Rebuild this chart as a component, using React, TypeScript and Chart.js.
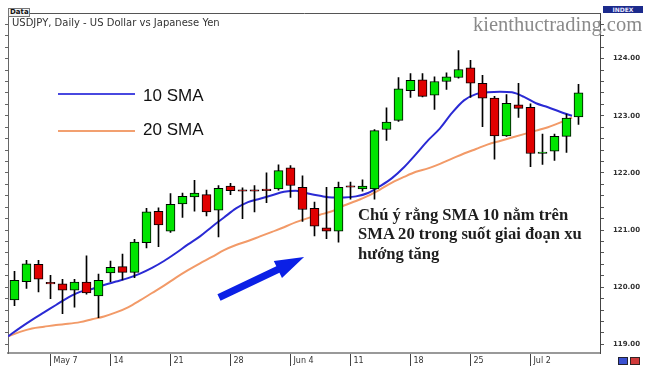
import React, { useEffect, useRef } from "react";
import { Chart, registerables } from "chart.js";

Chart.register(...registerables);

// ---- Data (USDJPY daily candles) ----
const opens = [119.78, 120.10, 120.40, 120.07, 120.06, 119.95, 120.09, 119.85, 120.25, 120.36, 120.26, 120.78, 121.33, 120.98, 121.46, 121.58, 121.62, 121.35, 121.77, 121.69, 121.69, 121.70, 121.72, 122.09, 121.75, 121.38, 121.04, 120.98, 121.76, 121.72, 121.72, 122.76, 122.92, 123.44, 123.63, 123.36, 123.60, 123.67, 123.84, 123.57, 123.31, 122.65, 123.19, 123.15, 122.34, 122.38, 122.64, 122.98];
const highs = [120.28, 120.47, 120.47, 120.21, 120.14, 120.14, 120.55, 120.23, 120.46, 120.58, 120.84, 121.38, 121.39, 121.64, 121.65, 121.87, 121.70, 121.78, 121.82, 121.74, 121.78, 122.00, 122.14, 122.13, 121.95, 121.49, 121.75, 121.84, 121.84, 121.88, 122.76, 123.14, 123.67, 123.74, 123.74, 123.68, 123.75, 124.14, 123.97, 123.71, 123.34, 123.37, 123.57, 123.21, 122.68, 122.68, 123.03, 123.55];
const lows = [119.68, 119.98, 119.92, 119.80, 119.54, 119.65, 119.88, 119.47, 120.10, 120.13, 120.17, 120.69, 120.71, 120.96, 121.22, 121.33, 121.25, 120.88, 121.62, 121.20, 121.32, 121.48, 121.70, 121.57, 121.15, 120.90, 120.85, 120.79, 121.54, 121.68, 121.54, 122.57, 122.90, 123.32, 123.33, 123.11, 123.46, 123.66, 123.32, 122.81, 122.24, 122.64, 122.97, 122.11, 122.15, 122.22, 122.36, 122.85];
const closes = [120.12, 120.41, 120.14, 120.06, 119.95, 120.09, 119.90, 120.12, 120.35, 120.26, 120.79, 121.32, 121.09, 121.45, 121.59, 121.65, 121.32, 121.73, 121.69, 121.68, 121.68, 121.69, 122.04, 121.78, 121.36, 121.07, 120.98, 121.75, 121.75, 121.77, 122.74, 122.89, 123.47, 123.62, 123.34, 123.60, 123.68, 123.81, 123.57, 123.31, 122.65, 123.22, 123.13, 122.34, 122.36, 122.64, 122.96, 123.40];
const sma10 = [119.14, 119.29, 119.43, 119.56, 119.69, 119.82, 119.92, 119.97, 120.04, 120.10, 120.16, 120.24, 120.34, 120.46, 120.60, 120.75, 120.89, 121.06, 121.22, 121.38, 121.49, 121.55, 121.61, 121.67, 121.69, 121.64, 121.60, 121.57, 121.57, 121.59, 121.65, 121.77, 121.91, 122.10, 122.33, 122.57, 122.78, 123.05, 123.27, 123.38, 123.41, 123.42, 123.41, 123.33, 123.22, 123.15, 123.07, 123.00];
const sma20 = [119.14, 119.22, 119.28, 119.31, 119.34, 119.36, 119.39, 119.44, 119.49, 119.56, 119.65, 119.77, 119.90, 120.03, 120.17, 120.30, 120.42, 120.53, 120.65, 120.74, 120.81, 120.89, 120.97, 121.05, 121.14, 121.21, 121.27, 121.33, 121.43, 121.51, 121.60, 121.71, 121.83, 121.93, 122.02, 122.08, 122.16, 122.25, 122.34, 122.42, 122.50, 122.56, 122.62, 122.68, 122.74, 122.80, 122.88, 122.97];
const weekTickIndex = [4, 9, 14, 19, 24, 29, 34, 39, 44];
const weekLabels = ["May 7", "14", "21", "28", "Jun 4", "11", "18", "25", "Jul 2"];
const smaShift = 0.5417; // moving averages are plotted half a bar to the left
const arrowFrom = { x: 18.04, y: 119.82 };
const arrowTo = { x: 25.13, y: 120.53 };

const X_MIN = 0.45833;
const X_MAX = 49.79167;
const Y_MIN = 118.85;
const Y_MAX = 124.795;

const GREEN = "#00e400";
const RED = "#e00000";

const arrowPlugin = {
  id: "trendArrow",
  afterDatasetsDraw(chart: any) {
    const { ctx } = chart;
    const xs = chart.scales.x;
    const ys = chart.scales.y;
    const x0 = xs.getPixelForValue(arrowFrom.x);
    const y0 = ys.getPixelForValue(arrowFrom.y);
    const x1 = xs.getPixelForValue(arrowTo.x);
    const y1 = ys.getPixelForValue(arrowTo.y);
    const dx = x1 - x0;
    const dy = y1 - y0;
    const len = Math.hypot(dx, dy);
    const ux = dx / len;
    const uy = dy / len;
    const nx = -uy;
    const ny = ux;
    const headLen = 29;
    const headW = 9.5;
    const shaftW = 3.6;
    const bx = x1 - ux * headLen;
    const by = y1 - uy * headLen;
    ctx.save();
    ctx.beginPath();
    ctx.moveTo(x0 + nx * shaftW, y0 + ny * shaftW);
    ctx.lineTo(bx + nx * shaftW, by + ny * shaftW);
    ctx.lineTo(bx + nx * headW, by + ny * headW);
    ctx.lineTo(x1, y1);
    ctx.lineTo(bx - nx * headW, by - ny * headW);
    ctx.lineTo(bx - nx * shaftW, by - ny * shaftW);
    ctx.lineTo(x0 - nx * shaftW, y0 - ny * shaftW);
    ctx.closePath();
    ctx.fillStyle = "#0b20e6";
    ctx.fill();
    ctx.restore();
  },
};

export default function App() {
  const ref = useRef<HTMLCanvasElement>(null);

  useEffect(() => {
    const canvas = ref.current;
    if (!canvas) return;
    const bodies = opens.map((o, i) => ({
      x: i + 1,
      y: [Math.min(o, closes[i]), Math.max(o, closes[i])],
    }));
    const bodyColors = opens.map((o, i) => (closes[i] >= o ? GREEN : RED));
    const wicks = lows.map((l, i) => ({ x: i + 1, y: [l, highs[i]] }));
    const s10 = sma10.map((v, i) => ({ x: i + 1 - smaShift, y: v }));
    const s20 = sma20.map((v, i) => ({ x: i + 1 - smaShift, y: v }));

    const chart = new Chart(canvas, {
      type: "bar",
      data: {
        datasets: [
          {
            type: "bar",
            label: "Bodies",
            data: bodies as any,
            backgroundColor: bodyColors,
            borderColor: "#000",
            borderWidth: 1,
            borderSkipped: false,
            barThickness: 9,
            minBarLength: 1.5,
            grouped: false,
            xAxisID: "x",
            yAxisID: "y",
          },
          {
            type: "bar",
            label: "Wicks",
            data: wicks as any,
            backgroundColor: "#000",
            borderWidth: 0,
            barThickness: 1,
            grouped: false,
            xAxisID: "x",
            yAxisID: "y",
          },
          {
            type: "line",
            label: "10 SMA",
            data: s10 as any,
            borderColor: "#2a2ad4",
            borderWidth: 2,
            pointRadius: 0,
            cubicInterpolationMode: "monotone",
            xAxisID: "x",
            yAxisID: "y",
          },
          {
            type: "line",
            label: "20 SMA",
            data: s20 as any,
            borderColor: "#f29a68",
            borderWidth: 2,
            pointRadius: 0,
            cubicInterpolationMode: "monotone",
            xAxisID: "x",
            yAxisID: "y",
          },
        ],
      },
      options: {
        responsive: false,
        maintainAspectRatio: false,
        animation: false,
        devicePixelRatio: 1,
        events: [],
        layout: { padding: 0 },
        plugins: {
          legend: { display: false },
          tooltip: { enabled: false },
          title: { display: false },
        },
        scales: {
          x: {
            type: "linear",
            position: "bottom",
            min: X_MIN,
            max: X_MAX,
            offset: false,
            afterBuildTicks: (scale: any) => {
              scale.ticks = weekTickIndex.map((v) => ({ value: v }));
            },
            afterFit: (scale: any) => {
              scale.height = 23;
            },
            ticks: {
              autoSkip: false,
              maxRotation: 0,
              minRotation: 0,
              align: "start",
              labelOffset: 3,
              padding: -10,
              color: "#333",
              font: { family: "'DejaVu Sans'", size: 8 },
              callback: (_v: any, i: number) => weekLabels[i],
            },
            grid: {
              display: true,
              offset: false,
              drawOnChartArea: false,
              drawTicks: true,
              tickLength: 13,
              tickColor: "#444",
              tickWidth: 1,
            },
            border: { display: true, color: "#999", width: 2 },
          },
          xTop: {
            type: "linear",
            position: "top",
            min: X_MIN,
            max: X_MAX,
            afterFit: (scale: any) => {
              scale.height = 7;
            },
            ticks: { display: false },
            grid: { display: false },
            border: { display: true, color: "#555", width: 1 },
          },
          y: {
            type: "linear",
            position: "right",
            min: Y_MIN,
            max: Y_MAX,
            afterFit: (scale: any) => {
              scale.width = 52;
            },
            ticks: {
              stepSize: 0.2,
              includeBounds: false,
              autoSkip: false,
              padding: 9,
              color: "#333",
              font: { family: "'DejaVu Sans'", size: 7, weight: "bold" },
              callback: (v: any) => {
                const n = Number(v);
                return Math.abs(n - Math.round(n)) < 1e-6 ? n.toFixed(2) : "";
              },
            },
            grid: {
              display: true,
              drawOnChartArea: false,
              drawTicks: true,
              tickLength: 4,
              tickColor: "#555",
            },
            border: { display: true, color: "#444", width: 1 },
          },
          yL: {
            type: "linear",
            position: "left",
            min: Y_MIN,
            max: Y_MAX,
            afterFit: (scale: any) => {
              scale.width = 8;
            },
            ticks: { display: false, stepSize: 0.2, includeBounds: false },
            grid: {
              display: true,
              drawOnChartArea: false,
              drawTicks: true,
              tickLength: 3,
              tickColor: "#666",
            },
            border: { display: true, color: "#666", width: 1 },
          },
        },
      } as any,
      plugins: [arrowPlugin],
    });
    return () => chart.destroy();
  }, []);

  const abs = (s: any): any => ({ position: "absolute", pointerEvents: "none", whiteSpace: "nowrap", ...s });

  return (
    <div style={{ position: "absolute", left: 0, top: 0, width: 652, height: 376, background: "#fff", overflow: "hidden" }}>
      <canvas ref={ref} width={652} height={376} style={{ display: "block", width: 652, height: 376 }} />
      <div style={abs({ left: 8, top: 8, width: 22, height: 9, border: "1px solid #777", background: "#f4f4f4", boxSizing: "border-box", font: "bold 7px 'DejaVu Sans'", lineHeight: "7px", color: "#111", paddingLeft: 1 })}>Data</div>
      <div style={abs({ left: 12, top: 18.2, font: "10px 'DejaVu Sans'", lineHeight: 1, color: "#333" })}>USDJPY, Daily - US Dollar vs Japanese Yen</div>
      <div style={abs({ left: 603, top: 6, width: 40, height: 7, background: "#1b2a8c", color: "#e8e8ff", font: "bold 6px 'DejaVu Sans'", lineHeight: "7px", textAlign: "center" })}>INDEX</div>
      <div style={abs({ left: 473, top: 14.3, font: "20.5px 'Liberation Serif'", lineHeight: 1, color: "#8a8a8a" })}>kienthuctrading.com</div>
      <div style={abs({ left: 58, top: 93, width: 77, height: 2, background: "#4848e0" })} />
      <div style={abs({ left: 143, top: 87.3, font: "17px 'Liberation Sans'", lineHeight: 1, color: "#111" })}>10 SMA</div>
      <div style={abs({ left: 58, top: 130, width: 77, height: 2, background: "#f2a070" })} />
      <div style={abs({ left: 143, top: 121.3, font: "17px 'Liberation Sans'", lineHeight: 1, color: "#111" })}>20 SMA</div>
      <div style={abs({ left: 358, top: 204.6, font: "bold 16.6px 'Liberation Serif'", lineHeight: "19.5px", color: "#1e1e1e" })}>
        Chú ý rằng SMA 10 nằm trên
        <br />
        SMA 20 trong suốt giai đoạn xu
        <br />
        hướng tăng
      </div>
      <div style={abs({ left: 618, top: 357, width: 10, height: 8, background: "#3a50d0", border: "1px solid #223", boxSizing: "border-box" })} />
      <div style={abs({ left: 630, top: 357, width: 10, height: 8, background: "#d03a3a", border: "1px solid #322", boxSizing: "border-box" })} />
    </div>
  );
}
